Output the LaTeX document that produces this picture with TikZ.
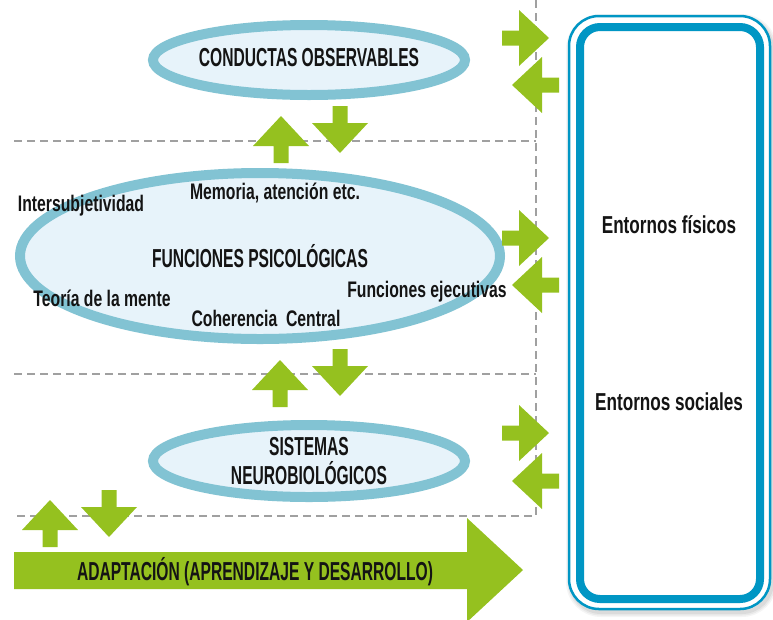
\documentclass[tikz,border=0pt]{standalone}
\usepackage{fontspec}
\setmainfont{Liberation Sans}[FakeStretch=0.70]
\newfontfamily\capsf{Liberation Sans}[FakeStretch=0.60]
\usetikzlibrary{shapes.geometric}
\definecolor{gr}{RGB}{149,193,31}
\definecolor{elb}{RGB}{130,195,211}
\definecolor{elf}{RGB}{231,243,250}
\definecolor{bxb}{RGB}{0,150,196}
\definecolor{dsh}{RGB}{160,160,160}
\definecolor{txt}{RGB}{20,20,20}
\begin{document}
\begin{tikzpicture}[x=1pt,y=-1pt,
  ell/.style={ellipse, draw=elb, fill=elf, line width=10pt, inner sep=0pt},
  caps/.style={font=\capsf\bfseries\fontsize{26}{29}\selectfont, text=txt, align=center},
  lab/.style={font=\bfseries\fontsize{22.5}{22}\selectfont, text=txt, inner sep=0pt},
  envlab/.style={font=\bfseries\fontsize{24.5}{24}\selectfont, text=txt},
  dashln/.style={draw=dsh, line width=2pt, dash pattern=on 8pt off 5pt},
  garrow/.pic={\fill[gr] (0,-7.5) -- (17,-7.5) -- (17,-28) -- (47,0) -- (17,28) -- (17,7.5) -- (0,7.5) -- cycle;}
]
\useasboundingbox (0,0) rectangle (773,619);
\clip (0,0) rectangle (773,619);

% dashed frame lines
\coordinate (vtop) at (536,0);
\coordinate (vbot) at (536,516);
\coordinate (hbl) at (14,516);
\draw[dashln] (vtop) -- (vbot) -- (hbl);
\draw[dashln] (14,141) -- (536,141);
\draw[dashln] (14,374) -- (536,374);

% ellipses
\node[ell, minimum width=312pt, minimum height=70pt] (cond) at (309,60) {};
\node[caps] (condt) at (309,58) {CONDUCTAS OBSERVABLES};

\node[ell, minimum width=480pt, minimum height=166pt] (func) at (260,256) {};
\node[caps] (funct) at (260,256) {FUNCIONES PSICOLÓGICAS};
\node[lab] (mem) at (275,193) {Memoria, atención etc.};
\node[lab] (inter) at (81,206) {Intersubjetividad};
\node[lab] (teo) at (102,298) {Teoría de la mente};
\node[lab] (coh) at (266,318) {Coherencia\ \ Central};
\node[lab] (fej) at (427,292) {Funciones ejecutivas};

\node[ell, minimum width=312pt, minimum height=72pt] (sis) at (309,461) {};
\node[caps] (sist) at (309,461) {SISTEMAS\\NEUROBIOLÓGICOS};

% vertical arrow pairs
\pic[rotate=90] at (281,163) {garrow};
\pic[rotate=-90] at (340,106) {garrow};
\pic[rotate=90] at (280,407) {garrow};
\pic[rotate=-90] at (340,349) {garrow};
\pic[rotate=90] at (50,547) {garrow};
\pic[rotate=-90] at (109,490) {garrow};

% horizontal arrow pairs
\pic at (502,38) {garrow};
\pic[rotate=180] at (559,85) {garrow};
\pic at (502,238) {garrow};
\pic[rotate=180] at (559,285) {garrow};
\pic at (502,433) {garrow};
\pic[rotate=180] at (559,481) {garrow};

% big arrow
\fill[gr] (14,552) -- (467,552) -- (467,518) -- (523,570) -- (467,622) -- (467,589) -- (14,589) -- cycle;
\node[caps] (adap) at (255,572) {ADAPTACIÓN (APRENDIZAJE Y DESARROLLO)};

% environment box with shadow
\foreach \w/\o in {10/0.04,7/0.05,4/0.06}
  \draw[black, opacity=\o, line width=\w pt, rounded corners=30pt] (571,19) rectangle (772,612);
\node[draw=bxb, fill=white, line width=2.5pt, rounded corners=30pt, minimum width=201pt, minimum height=593pt] (env) at (669.5,312.5) {};
\node[draw=bxb, line width=8pt, rounded corners=20pt, minimum width=180pt, minimum height=572pt] (envin) at (670,313) {};
\node[envlab] (fis) at (669,225) {Entornos físicos};
\node[envlab] (soc) at (669,402) {Entornos sociales};
\end{tikzpicture}
\end{document}
